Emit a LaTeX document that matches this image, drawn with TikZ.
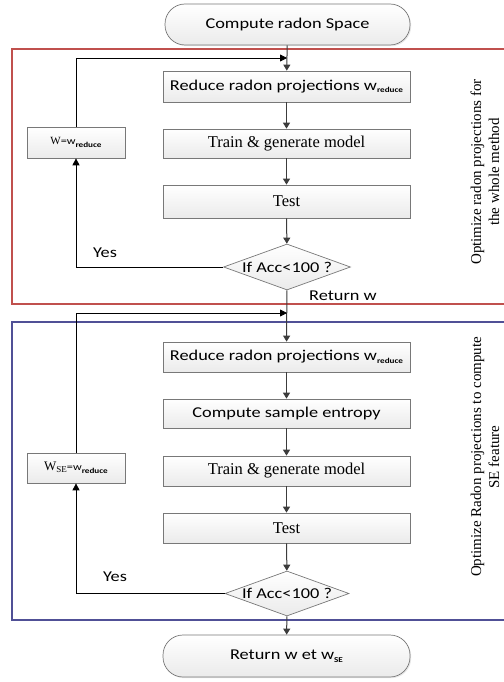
\documentclass[tikz,border=0pt]{standalone}
\usepackage{fontspec}
\setmainfont{Liberation Serif}
\newfontfamily\boxsans[FakeStretch=1.22]{Carlito}
\usetikzlibrary{shapes.geometric, arrows.meta, positioning, shadows}
\definecolor{framered}{RGB}{192,80,77}
\definecolor{frameblue}{RGB}{80,80,150}
\definecolor{boxline}{RGB}{120,120,120}
\definecolor{flowline}{RGB}{60,60,60}
\newcommand{\redsub}[1]{\raisebox{-2.5pt}{\boxsans\fontsize{7.5}{8}\selectfont\bfseries #1}}
\newcommand{\sansbig}{\boxsans\fontsize{15}{17}\selectfont}
\newcommand{\serifbig}{\rmfamily\fontsize{16.5}{18}\selectfont}

\begin{document}
\begin{tikzpicture}[x=1pt, y=-1pt,
    procbox/.style={draw=boxline, line width=0.7pt, top color=white, bottom color=gray!16,
        drop shadow={opacity=0.18, shadow xshift=1.2pt, shadow yshift=-1.2pt},
        minimum width=247pt, minimum height=30pt, inner sep=0pt},
    termbox/.style={procbox, rounded corners=20pt, minimum height=41pt, minimum width=245pt},
    setbox/.style={procbox, minimum width=98pt, minimum height=31pt},
    decbox/.style={diamond, draw=boxline, line width=0.7pt, top color=white, bottom color=gray!16,
        minimum width=127pt, minimum height=46pt, inner sep=0pt, aspect=2.8, font=\sansbig},
    flow/.style={draw=flowline, line width=1pt, -{Triangle[width=7pt,length=6pt]}},
    loopline/.style={draw=black, line width=0.8pt},
    frame/.style={line width=1.2pt}]
    \useasboundingbox (0,0) rectangle (503,682);

    % Frames of the two stages
    \draw[frame, framered] (506,49) -| (12,304) -- (506,304);
    \draw[frame, frameblue] (506,322) -| (12,620) -- (506,620);

    % Main column
    \node[termbox, font=\sansbig] (start) at (287.5,24.5) {Compute radon Space};
    \node[procbox, font=\sansbig, minimum height=31pt] (reduceA) at (286.5,86.5) {Reduce radon projections w\redsub{reduce}};
    \node[procbox, font=\serifbig, minimum height=29pt] (trainA) at (286.5,143.5) {Train \& generate model};
    \node[procbox, font=\serifbig, minimum height=33pt] (testA) at (286.5,201.5) {Test};
    \node[decbox] (accA) at (287,267) {If Acc<100 ?};

    \node[procbox, font=\sansbig] (reduceB) at (286.5,357) {Reduce radon projections w\redsub{reduce}};
    \node[procbox, font=\sansbig, minimum height=29pt] (sampen) at (286.5,413.5) {Compute sample entropy};
    \node[procbox, font=\serifbig] (trainB) at (286.5,471) {Train \& generate model};
    \node[procbox, font=\serifbig] (testB) at (286.5,528) {Test};
    \node[decbox, minimum width=124pt, minimum height=45pt] (accB) at (287,593.5) {If Acc<100 ?};
    \node[termbox, font=\sansbig, minimum width=247pt, minimum height=42pt] (stop) at (286.5,656) {Return w et w\redsub{SE}};

    % Update boxes
    \node[setbox, minimum height=31pt] (setA) at (76,142.5) {{\rmfamily\fontsize{11}{12}\selectfont W}{\boxsans\fontsize{10}{12}\selectfont =w}\redsub{reduce}};
    \node[setbox, minimum height=30pt] (setB) at (76,468) {{\rmfamily\fontsize{13}{14}\selectfont W\raisebox{-2pt}{\fontsize{9}{10}\selectfont SE}}{\boxsans\fontsize{10}{12}\selectfont =w}\redsub{reduce}};

    % Side labels
    \node[rotate=90, align=center, font=\rmfamily\fontsize{15}{18}\selectfont] (labA) at (485,172) {Optimize radon projections for\\the whole method};
    \node[rotate=90, align=center, font=\rmfamily\fontsize{15}{18}\selectfont] (labB) at (485,457) {Optimize Radon projections to compute\\SE feature};

    % Main flow
    \draw[flow] (start) -- (reduceA);
    \draw[flow] (reduceA) -- (trainA);
    \draw[flow] (trainA) -- (testA);
    \draw[flow] (testA) -- (accA);
    \draw[flow] (accA) -- (reduceB);
    \draw[flow] (reduceB) -- (sampen);
    \draw[flow] (sampen) -- (trainB);
    \draw[flow] (trainB) -- (testB);
    \draw[flow] (testB) -- (accB);
    \draw[flow] (accB) -- (stop);

    % Loops
    \coordinate (backA) at (287,58);
    \coordinate (backB) at (287,313);
    \draw[loopline, -{Triangle[width=7pt,length=7pt]}] (setA.north) |- (backA);
    \draw[loopline, -{Triangle[width=7pt,length=7pt]}] (accA.west) -| (setA.south);
    \draw[loopline, -{Triangle[width=7pt,length=7pt]}] (setB.north) |- (backB);
    \draw[loopline, -{Triangle[width=7pt,length=7pt]}] (accB.west) -| (setB.south);

    % Branch labels
    \node[font=\sansbig] (yesA) at (105,253) {Yes};
    \node[font=\sansbig] (yesB) at (115,577) {Yes};
    \node[font=\sansbig] (retA) at (343,296) {Return w};
\end{tikzpicture}
\end{document}
